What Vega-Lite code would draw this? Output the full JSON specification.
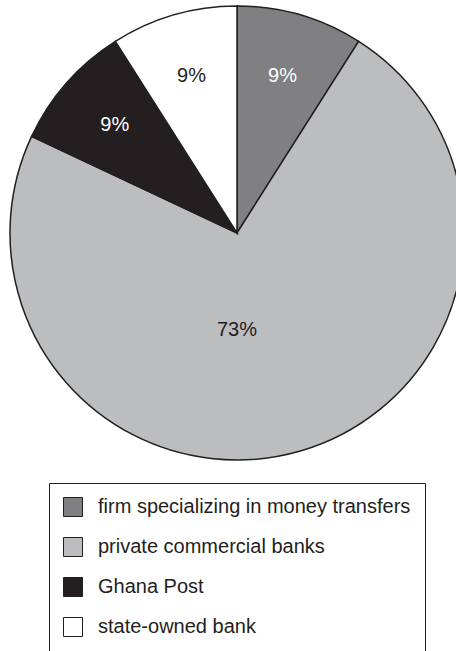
{
  "$schema": "https://vega.github.io/schema/vega-lite/v6.json",
  "width": 438,
  "height": 466,
  "autosize": {"type": "none"},
  "padding": {"left": 18, "top": 0, "right": 0, "bottom": 185},
  "background": "white",
  "config": {"view": {"stroke": null}},
  "data": {
    "values": [
      {"category": "firm specializing in money transfers", "share": 9, "label": "9%", "rank": 1},
      {"category": "private commercial banks", "share": 73, "label": "73%", "rank": 2},
      {"category": "Ghana Post", "share": 9, "label": "9%", "rank": 3},
      {"category": "state-owned bank", "share": 9, "label": "9%", "rank": 4}
    ]
  },
  "encoding": {
    "theta": {"field": "share", "type": "quantitative", "stack": true},
    "order": {"field": "rank", "type": "quantitative"}
  },
  "layer": [
    {
      "mark": {"type": "arc", "outerRadius": 227, "stroke": "#231f20", "strokeWidth": 1.5},
      "encoding": {
        "color": {
          "field": "category",
          "type": "nominal",
          "scale": {
            "domain": ["firm specializing in money transfers", "private commercial banks", "Ghana Post", "state-owned bank"],
            "range": ["#808082", "#bcbdbf", "#231f20", "#ffffff"]
          },
          "legend": {
            "orient": "none",
            "legendX": 31,
            "legendY": 483,
            "title": null,
            "padding": 14,
            "strokeColor": "#231f20",
            "symbolType": "square",
            "symbolSize": 361,
            "symbolStrokeColor": "#231f20",
            "symbolStrokeWidth": 1,
            "symbolOpacity": 1,
            "labelFont": "Liberation Sans",
            "labelFontSize": 20,
            "labelColor": "#231f20",
            "labelOffset": 15,
            "labelLimit": 400,
            "rowPadding": 16
          }
        }
      }
    },
    {
      "mark": {"type": "text", "radius": 163, "font": "Liberation Sans", "fontSize": 20},
      "encoding": {
        "text": {"condition": {"test": "datum.share > 50", "value": ""}, "field": "label", "type": "nominal"},
        "fill": {
          "condition": {"test": "datum.category === 'state-owned bank'", "value": "#231f20"},
          "value": "#ffffff"
        }
      }
    },
    {
      "transform": [{"filter": "datum.share > 50"}],
      "mark": {"type": "text", "radius": 97, "font": "Liberation Sans", "fontSize": 20, "fill": "#231f20"},
      "encoding": {
        "text": {"field": "label", "type": "nominal"}
      }
    }
  ],
  "resolve": {"scale": {"theta": "independent"}}
}
